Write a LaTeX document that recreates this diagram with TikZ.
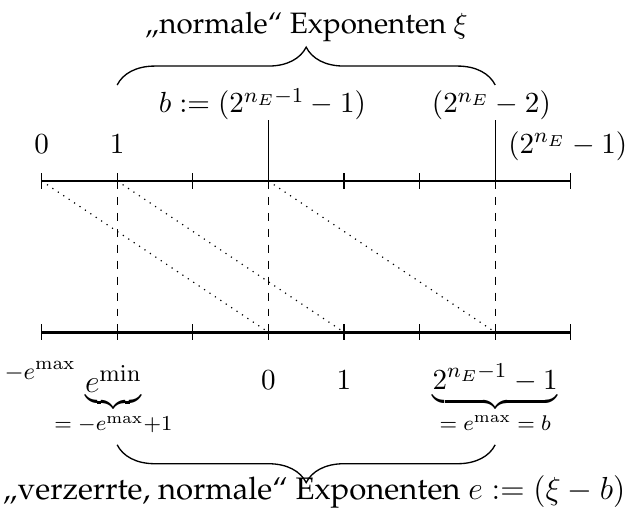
\documentclass[tikz,border=0pt]{standalone}
\usepackage[T1]{fontenc}
\usepackage{palatino}
\usetikzlibrary{decorations.pathreplacing}
\tikzset{
  axisline/.style={line width=1.1pt},
  tickline/.style={line width=0.5pt},
  guideline/.style={dashed, line width=0.45pt},
  shiftline/.style={dotted, line width=0.45pt},
  lab/.style={inner sep=0pt, anchor=base, font=\fontsize{10.95}{13}\selectfont},
  bigbrace/.style={decorate, decoration={brace, amplitude=0.5cm}, line width=0.5pt},
}
\begin{document}
\begin{tikzpicture}
\useasboundingbox (-0.55,-4.431) rectangle (7.757,2.394);
% ticks and coordinates
\foreach \i in {0,...,7} {
  \coordinate (t\i) at (\i,0);
  \coordinate (b\i) at (\i,-2);
  \draw[tickline] (\i,0.105) -- (\i,-0.105);
  \draw[tickline] (\i,-1.895) -- (\i,-2.105);
}
\draw[axisline] (t0) -- (t7);
\draw[axisline] (b0) -- (b7);
% solid markers on top
\coordinate (u3) at (3,0.8);
\coordinate (u6) at (6,0.8);
\draw[tickline] (t3) -- (u3);
\draw[tickline] (t6) -- (u6);
% dashed guides
\draw[guideline] (t1) -- (b1);
\draw[guideline] (t3) -- (b3);
\draw[guideline] (t6) -- (b6);
% dotted shifts
\draw[shiftline] (t0) -- (b3);
\draw[shiftline] (t1) -- (b4);
\draw[shiftline] (t3) -- (b6);
% top labels
\node[lab] (l0) at (0,0.37) {$0$};
\node[lab] (l1) at (1,0.37) {$1$};
\node[lab] (lb) at (2.92,0.9) {$b := (2^{n_E-1}-1)$};
\node[lab] (l6) at (5.95,0.9) {$(2^{n_E}-2)$};
\node[lab] (l7) at (6.96,0.37) {$(2^{n_E}-1)$};
% bottom labels
\node[lab, font=\fontsize{9.5}{11}\selectfont] (m0) at (-0.02,-2.63) {$-e^{\max}$};
\node[lab] (mmin) at (0.95,-2.8) {$\underbrace{\mbox{\fontsize{13}{15}\selectfont $e^{\min}$}}_{\mbox{\fontsize{8.5}{10}\selectfont $=-e^{\max}{+}1$}}$};
\node[lab] (m3) at (3,-2.76) {$0$};
\node[lab] (m4) at (4,-2.76) {$1$};
\node[lab] (m6) at (6,-2.76) {$\underbrace{2^{n_E-1}-1}_{\mbox{\fontsize{8.5}{10}\selectfont $= e^{\max} = b$}}$};
% braces
\coordinate (ba) at (1,1.27);
\coordinate (bb) at (6,1.27);
\draw[bigbrace] (ba) -- (bb);
\node (top) at (3.5,2.04) {\fontsize{11.1}{14}\selectfont\quotedblbase normale\textquotedblleft{} Exponenten $\xi$};
\coordinate (ca) at (1,-3.49);
\coordinate (cb) at (6,-3.49);
\draw[bigbrace, decoration={mirror}] (ca) -- (cb);
\node (bot) at (3.6,-4.11) {\fontsize{11.7}{14}\selectfont\quotedblbase verzerrte, normale\textquotedblleft{} Exponenten $e := (\xi - b)$};
\end{tikzpicture}
\end{document}
